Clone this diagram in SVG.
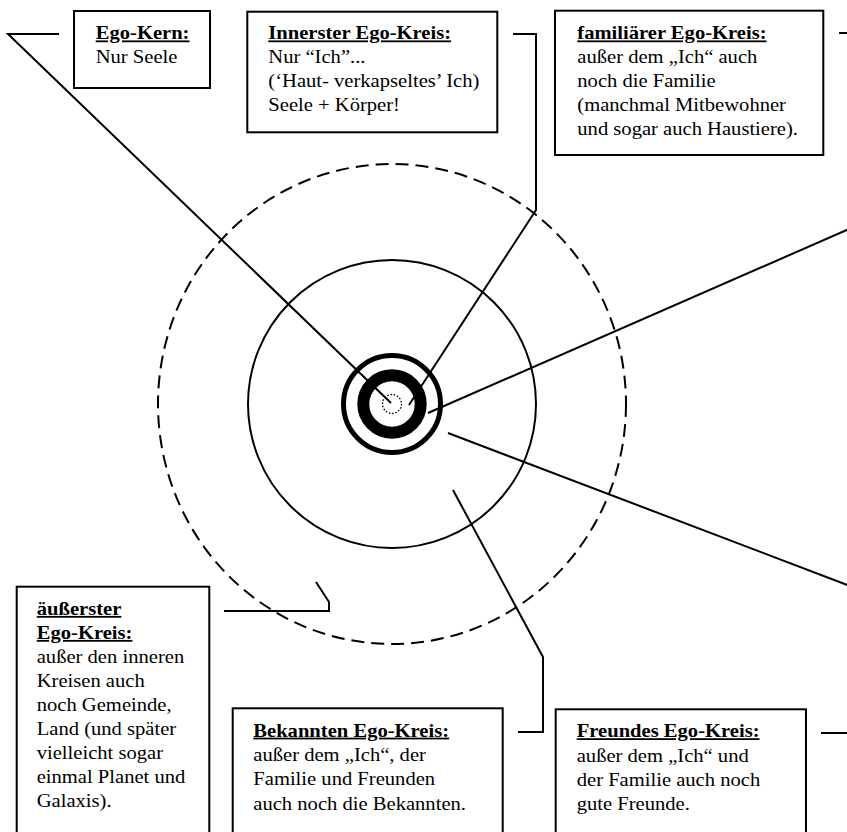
<svg xmlns="http://www.w3.org/2000/svg" width="847" height="832" viewBox="0 0 847 832">
<style>
.box{fill:#fff;stroke:#000;stroke-width:2}
.t{font-size:18px;fill:#000}
.h{font-weight:bold;text-decoration:underline}
.c{fill:none;stroke:#000;stroke-width:2;stroke-linejoin:miter}
.ring{fill:none;stroke:#000}
</style>
<rect width="847" height="832" fill="#fff"/>
<g id="circles">
<ellipse class="ring" cx="392" cy="404" rx="234" ry="240" stroke-width="2" stroke-dasharray="13 7"/>
<circle class="ring" cx="392" cy="404" r="144" stroke-width="2"/>
<circle class="ring" cx="392" cy="404" r="48.5" stroke-width="5"/>
<circle class="ring" cx="392" cy="404" r="28.7" stroke-width="12"/>
<circle class="ring" cx="392" cy="404" r="9.5" stroke-width="1.3" stroke-dasharray="1.5 1.8"/>
</g>
<g id="connectors">
<polyline class="c" points="59,34 8,34 391,403"/>
<polyline class="c" points="513,34 536,34 536,210 409,405"/>
<line class="c" x1="839" y1="33" x2="850" y2="33"/>
<line class="c" x1="850" y1="228.6" x2="428" y2="413"/>
<line class="c" x1="821" y1="733" x2="850" y2="733"/>
<line class="c" x1="850" y1="586" x2="448" y2="433"/>
<polyline class="c" points="518,732 543,732 543,657 453,490"/>
<polyline class="c" points="224,611 329,611 329,602 316,582"/>
</g>
<g font-family="Liberation Serif, Tinos, Times New Roman, serif">
<g id="ego-kern">
<rect class="box" x="74" y="11" width="136" height="77"/>
<g transform="translate(95.7 0) scale(1.145 1)">
<text class="t h" y="39.5">Ego-Kern:</text>
<text class="t" y="63.5">Nur Seele</text>
</g>
</g>
<g id="innerster">
<rect class="box" x="247.3" y="11.7" width="250" height="120.6"/>
<g transform="translate(268.3 0) scale(1.145 1)">
<text class="t h" y="39.5">Innerster Ego-Kreis:</text>
<text class="t" y="63.5">Nur “Ich”...</text>
<text class="t" y="87.3">(‘Haut- verkapseltes’ Ich)</text>
<text class="t" y="111">Seele + Körper!</text>
</g>
</g>
<g id="familiaer">
<rect class="box" x="555" y="10.7" width="268.3" height="144.3"/>
<g transform="translate(577.3 0) scale(1.145 1)">
<text class="t h" y="39.5">familiärer Ego-Kreis:</text>
<text class="t" y="63.5">außer dem „Ich“ auch</text>
<text class="t" y="87.4">noch die Familie</text>
<text class="t" y="111.2">(manchmal Mitbewohner</text>
<text class="t" y="135">und sogar auch Haustiere).</text>
</g>
</g>
<g id="aeusserster">
<rect class="box" x="16.7" y="586.7" width="192.6" height="260"/>
<g transform="translate(36.7 0) scale(1.145 1)">
<text class="t h" y="615">äußerster</text>
<text class="t h" y="639">Ego-Kreis:</text>
<text class="t" y="663">außer den inneren</text>
<text class="t" y="687">Kreisen auch</text>
<text class="t" y="711">noch Gemeinde,</text>
<text class="t" y="735">Land (und später</text>
<text class="t" y="759">vielleicht sogar</text>
<text class="t" y="783">einmal Planet und</text>
<text class="t" y="807">Galaxis).</text>
</g>
</g>
<g id="bekannten">
<rect class="box" x="232.7" y="708.3" width="270" height="140"/>
<g transform="translate(253.3 0) scale(1.145 1)">
<text class="t h" y="736.7">Bekannten Ego-Kreis:</text>
<text class="t" y="761">außer dem „Ich“, der</text>
<text class="t" y="785.3">Familie und Freunden</text>
<text class="t" y="809.6">auch noch die Bekannten.</text>
</g>
</g>
<g id="freundes">
<rect class="box" x="555.7" y="709.3" width="250.3" height="140"/>
<g transform="translate(576.7 0) scale(1.145 1)">
<text class="t h" y="737.3">Freundes Ego-Kreis:</text>
<text class="t" y="761.6">außer dem „Ich“ und</text>
<text class="t" y="785.9">der Familie auch noch</text>
<text class="t" y="810.2">gute Freunde.</text>
</g>
</g>
</g>
</svg>
